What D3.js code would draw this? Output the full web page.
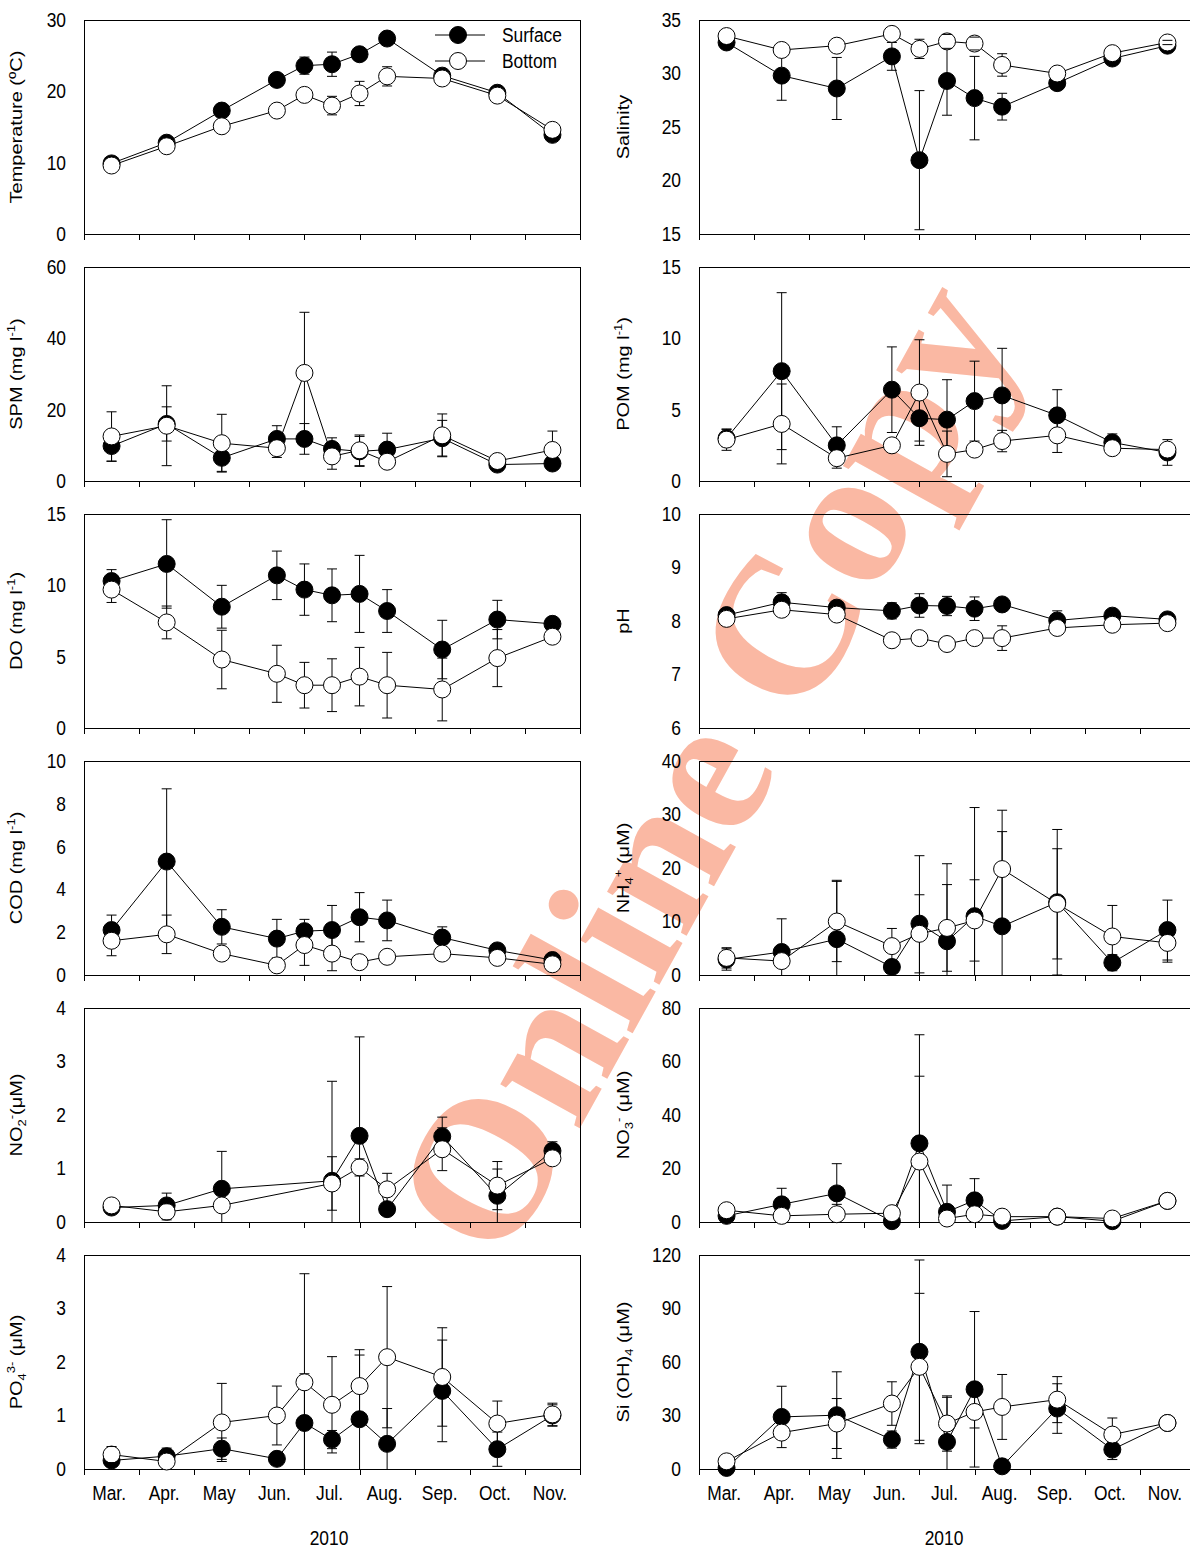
<!DOCTYPE html>
<html>
<head>
<meta charset="utf-8">
<script src="https://cdn.jsdelivr.net/npm/d3@7"></script>
<style>
  body { margin: 0; background: #fff; }
  svg { display: block; font-family: "Liberation Sans", Arial, sans-serif; }
</style>
</head>
<body>
<script>
// sampling dates, in months after 1 March 2010
var sampleMonths = [0.5, 1.5, 2.5, 3.5, 4, 4.5, 5, 5.5, 6.5, 7.5, 8.5];
var monthLabels = ["Mar.", "Apr.", "May", "Jun.", "Jul.", "Aug.", "Sep.", "Oct.", "Nov."];
var yearLabel = "2010";
var legendLabels = ["Surface", "Bottom"];

// Temperature
var tempSurf   = [9.9, 12.8, 17.3, 21.6, 23.6, 23.8, 25.2, 27.4, 22.2, 19.8, 13.9];
var tempSurfSD = [0.3, 0.3, 0.4, 0.4, 1.2, 1.7, 0.6, 0.4, 0.3, 0.3, 0.3];
var tempBot    = [9.6, 12.3, 15.1, 17.3, 19.5, 18.0, 19.7, 22.1, 21.8, 19.4, 14.6];
var tempBotSD  = [0, 0, 0, 0, 0, 1.3, 1.7, 1.35, 0, 0, 0];

// Salinity
var salSurf   = [32.9, 29.8, 28.6, 31.6, 21.9, 29.3, 27.7, 26.9, 29.1, 31.4, 32.6];
var salSurfSD = [0.4, 2.3, 2.9, 1.3, 6.5, 3.2, 3.9, 1.25, 0.3, 0.3, 0.2];
var salBot    = [33.5, 32.2, 32.6, 33.7, 32.3, 33.0, 32.8, 30.8, 30.0, 31.9, 32.9];
var salBotSD  = [0, 0, 0, 0, 0.9, 0.65, 0.6, 1.05, 0, 0, 0.2];

// SPM
var spmSurf   = [9.8, 16.0, 6.5, 11.8, 11.8, 9.0, 8.3, 8.8, 12.0, 4.6, 4.9];
var spmSurfSD = [4.3, 4.8, 3.8, 3.7, 4.3, 3.1, 4.2, 4.6, 5.0, 1.0, 1.5];
var spmBot    = [12.5, 15.5, 10.6, 9.2, 30.3, 6.9, 8.6, 5.4, 12.8, 5.6, 8.7];
var spmBotSD  = [6.9, 11.2, 8.1, 2.6, 17.0, 3.6, 4.3, 0, 6.0, 0, 5.3];

// POM
var pomSurf   = [3.0, 7.7, 2.5, 6.4, 4.4, 4.3, 5.6, 6.0, 4.6, 2.7, 2.0];
var pomSurfSD = [0.6, 5.5, 1.3, 3.0, 1.6, 2.8, 2.8, 3.3, 1.8, 0.6, 0.9];
var pomBot    = [2.9, 4.0, 1.6, 2.5, 6.2, 1.9, 2.2, 2.8, 3.2, 2.3, 2.2];
var pomBotSD  = [0.75, 2.8, 0.7, 0, 3.7, 1.6, 0, 0.75, 1.2, 0, 0];

// DO
var doSurf   = [10.3, 11.5, 8.5, 10.7, 9.7, 9.3, 9.4, 8.2, 5.5, 7.6, 7.3];
var doSurfSD = [0.8, 3.1, 1.5, 1.7, 1.8, 1.85, 2.7, 1.5, 2.05, 1.35, 0.3];
var doBot    = [9.7, 7.4, 4.8, 3.8, 3.0, 3.0, 3.6, 3.0, 2.7, 4.9, 6.4];
var doBotSD  = [0.9, 1.15, 2.05, 2.0, 1.6, 1.85, 2.05, 2.3, 2.2, 2.0, 0];

// pH
var phSurf   = [8.11, 8.35, 8.25, 8.19, 8.29, 8.28, 8.23, 8.31, 8.01, 8.10, 8.03];
var phSurfSD = [0.08, 0.18, 0.05, 0.15, 0.22, 0.18, 0.22, 0.05, 0.18, 0.05, 0.04];
var phBot    = [8.04, 8.21, 8.12, 7.64, 7.68, 7.57, 7.68, 7.68, 7.87, 7.93, 7.96];
var phBotSD  = [0, 0, 0, 0, 0, 0, 0, 0.23, 0, 0, 0];

// COD
var codSurf   = [2.1, 5.3, 2.25, 1.7, 2.05, 2.1, 2.7, 2.55, 1.75, 1.15, 0.7];
var codSurfSD = [0.7, 3.4, 0.8, 0.9, 0.55, 1.15, 1.15, 0.95, 0.5, 0.3, 0.1];
var codBot    = [1.6, 1.9, 1.0, 0.45, 1.4, 1.0, 0.6, 0.85, 1.0, 0.8, 0.5];
var codBotSD  = [0.7, 0.9, 0, 0, 0.95, 0.8, 0, 0, 0, 0, 0];

// NH4+
var nh4Surf   = [2.9, 4.3, 6.7, 1.5, 9.6, 6.3, 11.0, 9.1, 13.6, 2.3, 8.4];
var nh4SurfSD = [2.0, 6.2, 11.0, 1.0, 12.7, 14.5, 20.3, 17.7, 13.6, 1.5, 5.6];
var nh4Bot    = [3.2, 2.6, 10.0, 5.4, 7.7, 8.8, 10.2, 19.8, 13.3, 7.2, 6.0];
var nh4BotSD  = [1.9, 0, 7.5, 3.3, 7.3, 8.1, 7.6, 11.0, 10.3, 5.8, 3.6];

// NO2- (no samples at mid June / early July)
var no2Surf   = [0.27, 0.31, 0.62, null, null, 0.77, 1.61, 0.24, 1.60, 0.49, 1.33];
var no2SurfSD = [0.03, 0.23, 0.7, null, null, 1.86, 1.85, 0.05, 0.36, 0.5, 0.17];
var no2Bot    = [0.31, 0.19, 0.31, null, null, 0.72, 1.02, 0.61, 1.36, 0.68, 1.19];
var no2BotSD  = [0, 0.15, 0, null, null, 0.5, 0.16, 0.3, 0.4, 0.45, 0];

// NO3-
var no3Surf   = [2.3, 6.6, 10.7, 0.3, 29.4, 3.8, 8.1, 0.4, 2.0, 0.3, 7.9];
var no3SurfSD = [0.5, 6.0, 11.1, 0.3, 40.6, 10.0, 8.1, 0.3, 0.5, 0.3, 0.5];
var no3Bot    = [4.4, 2.3, 2.9, 3.3, 22.6, 1.3, 2.9, 2.0, 2.0, 1.3, 7.9];
var no3BotSD  = [0, 0, 3.7, 0, 31.9, 0, 0, 0, 0, 0, 0];

// PO4 3-
var po4Surf   = [0.16, 0.24, 0.38, 0.19, 0.86, 0.55, 0.93, 0.47, 1.46, 0.37, 1.0];
var po4SurfSD = [0.05, 0.15, 0.2, 0.05, 0.92, 0.17, 1.2, 0.66, 0.95, 0.32, 0.2];
var po4Bot    = [0.27, 0.14, 0.87, 1.0, 1.62, 1.2, 1.55, 2.09, 1.72, 0.85, 1.02];
var po4BotSD  = [0.15, 0, 0.73, 0.55, 2.03, 0.9, 0.68, 1.32, 0.92, 0.42, 0.21];

// Si(OH)4
var siSurf   = [0.6, 29.2, 30.2, 16.5, 65.7, 15.2, 44.7, 1.5, 33.9, 10.9, 25.8];
var siSurfSD = [0.5, 17.2, 24.3, 4.8, 51.5, 25.0, 43.6, 0.5, 13.9, 5.6, 1.0];
var siBot    = [4.3, 20.4, 25.5, 36.7, 57.3, 25.5, 32.0, 34.8, 38.9, 19.3, 25.8];
var siBotSD  = [0, 0, 14.0, 12.2, 41.2, 15.5, 9.0, 18.2, 12.9, 9.3, 0];

// axis titles, as [text, "sub"/"sup"/""] pieces
var panels = [
  { col: 0, row: 0, domain: [0, 30], step: 10, title: [["Temperature (\u00baC)", ""]],
    surf: tempSurf, surfSD: tempSurfSD, bot: tempBot, botSD: tempBotSD },
  { col: 1, row: 0, domain: [15, 35], step: 5, title: [["Salinity", ""]],
    surf: salSurf, surfSD: salSurfSD, bot: salBot, botSD: salBotSD },
  { col: 0, row: 1, domain: [0, 60], step: 20, title: [["SPM (mg l", ""], ["-1", "sup"], [")", ""]],
    surf: spmSurf, surfSD: spmSurfSD, bot: spmBot, botSD: spmBotSD },
  { col: 1, row: 1, domain: [0, 15], step: 5, title: [["POM (mg l", ""], ["-1", "sup"], [")", ""]],
    surf: pomSurf, surfSD: pomSurfSD, bot: pomBot, botSD: pomBotSD },
  { col: 0, row: 2, domain: [0, 15], step: 5, title: [["DO (mg l", ""], ["-1", "sup"], [")", ""]],
    surf: doSurf, surfSD: doSurfSD, bot: doBot, botSD: doBotSD },
  { col: 1, row: 2, domain: [6, 10], step: 1, title: [["pH", ""]],
    surf: phSurf, surfSD: phSurfSD, bot: phBot, botSD: phBotSD },
  { col: 0, row: 3, domain: [0, 10], step: 2, title: [["COD (mg l", ""], ["-1", "sup"], [")", ""]],
    surf: codSurf, surfSD: codSurfSD, bot: codBot, botSD: codBotSD },
  { col: 1, row: 3, domain: [0, 40], step: 10, title: [["NH", ""], ["4", "sub"], ["+", "sup"], [" (\u03bcM)", ""]],
    surf: nh4Surf, surfSD: nh4SurfSD, bot: nh4Bot, botSD: nh4BotSD },
  { col: 0, row: 4, domain: [0, 4], step: 1, title: [["NO", ""], ["2", "sub"], ["-", "sup"], ["(\u03bcM)", ""]],
    surf: no2Surf, surfSD: no2SurfSD, bot: no2Bot, botSD: no2BotSD },
  { col: 1, row: 4, domain: [0, 80], step: 20, title: [["NO", ""], ["3", "sub"], ["-", "sup"], [" (\u03bcM)", ""]],
    surf: no3Surf, surfSD: no3SurfSD, bot: no3Bot, botSD: no3BotSD },
  { col: 0, row: 5, domain: [0, 4], step: 1, title: [["PO", ""], ["4", "sub"], ["3-", "sup"], [" (\u03bcM)", ""]],
    surf: po4Surf, surfSD: po4SurfSD, bot: po4Bot, botSD: po4BotSD },
  { col: 1, row: 5, domain: [0, 120], step: 30, title: [["Si (OH)", ""], ["4", "sub"], [" (\u03bcM)", ""]],
    surf: siSurf, surfSD: siSurfSD, bot: siBot, botSD: siBotSD }
];

// layout
var svgWidth = 1190;
var svgHeight = 1549;
var plotW = 496;
var plotH = 214;
var colX = [84, 699];
var rowY = [20, 267, 514, 761, 1008, 1255];
var titleDx = [-62, -70];
var squeeze = 0.87;   // the figure is a bit narrow
var r = 8.5;
var capW = 5;

var svg = d3.select("body")
  .append("svg")
  .attr("width", svgWidth)
  .attr("height", svgHeight);

// watermark behind everything
svg.append("text")
  .attr("transform", "translate(702,765) rotate(-61)")
  .attr("text-anchor", "middle")
  .attr("dy", "0.35em")
  .style("font-family", "'Liberation Serif', 'Times New Roman', serif")
  .style("font-size", "198px")
  .style("font-weight", "bold")
  .attr("fill", "#fab8a3")
  .text("Online Copy");

function hText(g, x, y, str, anchor) {
  return g.append("text")
    .attr("transform", "translate(" + x + "," + y + ") scale(" + squeeze + ",1)")
    .attr("text-anchor", anchor || "start")
    .attr("font-size", 20)
    .text(str);
}

function drawSeries(g, x, y, domain, vals, sds, filled) {
  var pts = sampleMonths.map(function(m, i) {
    return { m: m, v: vals[i], sd: sds[i] };
  }).filter(function(d) { return d.v != null; });

  g.append("path")
    .datum(pts)
    .attr("d", d3.line().x(function(d) { return x(d.m); }).y(function(d) { return y(d.v); }))
    .attr("fill", "none")
    .attr("stroke", "#000")
    .attr("stroke-width", 1);

  g.selectAll(null)
    .data(pts)
    .enter()
    .append("circle")
    .attr("cx", function(d) { return x(d.m); })
    .attr("cy", function(d) { return y(d.v); })
    .attr("r", r)
    .attr("fill", filled ? "#000" : "#fff")
    .attr("stroke", "#000")
    .attr("stroke-width", 1);

  // error bars start at the symbol edge
  g.selectAll(null)
    .data(pts.filter(function(d) { return d.sd > 0; }))
    .enter()
    .append("path")
    .attr("fill", "none")
    .attr("stroke", "#000")
    .attr("stroke-width", 1)
    .attr("d", function(d) {
      var cx = x(d.m), cy = y(d.v), s = "";
      if (d.v + d.sd <= domain[1]) {
        var yh = y(d.v + d.sd);
        if (cy - yh > r) s += "M" + cx + "," + (cy - r) + "V" + yh;
        s += "M" + (cx - capW) + "," + yh + "H" + (cx + capW);
      }
      var lo = d.v - d.sd;
      var yl = y(Math.max(lo, domain[0]));
      if (yl - cy > r) s += "M" + cx + "," + (cy + r) + "V" + yl;
      if (lo >= domain[0]) s += "M" + (cx - capW) + "," + yl + "H" + (cx + capW);
      return s;
    });
}

panels.forEach(function(p) {
  var g = svg.append("g")
    .attr("transform", "translate(" + colX[p.col] + "," + rowY[p.row] + ")");

  var x = d3.scaleLinear().domain([0, 9]).range([0, plotW]);
  var y = d3.scaleLinear().domain(p.domain).range([plotH, 0]);

  // frame
  g.append("rect")
    .attr("width", plotW)
    .attr("height", plotH)
    .attr("fill", "none")
    .attr("stroke", "#000")
    .attr("shape-rendering", "crispEdges");

  // y axis, labels only
  var yTicks = d3.range(p.domain[0], p.domain[1] + 1e-9, p.step);
  var ya = g.append("g")
    .call(d3.axisLeft(y).tickValues(yTicks).tickSize(0).tickSizeOuter(0).tickFormat(d3.format("~g")));
  ya.attr("font-family", null).attr("font-size", 20);
  ya.select(".domain").attr("shape-rendering", "crispEdges");
  ya.selectAll("text")
    .attr("x", -18 / squeeze)
    .attr("transform", "scale(" + squeeze + ",1)");

  // x axis, ticks at month boundaries
  var xa = g.append("g")
    .attr("transform", "translate(0," + plotH + ")")
    .call(d3.axisBottom(x).tickValues(d3.range(0, 10)).tickSize(6).tickSizeOuter(0).tickFormat(""));
  xa.selectAll("line, path").attr("shape-rendering", "crispEdges");

  if (p.row === 5) {
    var xl = g.append("g")
      .attr("transform", "translate(0," + plotH + ")")
      .call(d3.axisBottom(x).tickValues(d3.range(0.5, 9, 1)).tickSize(0)
        .tickFormat(function(d, i) { return monthLabels[i]; }));
    xl.attr("font-family", null).attr("font-size", 20);
    xl.select(".domain").remove();
    xl.selectAll("text")
      .attr("x", -3 / squeeze)
      .attr("y", 31)
      .attr("dy", 0)
      .attr("transform", "scale(" + squeeze + ",1)");
    hText(g, plotW / 2 - 3, plotH + 76, yearLabel, "middle");
  }

  // rotated axis title
  var t = g.append("text")
    .attr("transform", "translate(" + titleDx[p.col] + "," + (plotH / 2) + ") rotate(-90) scale(1," + squeeze + ")")
    .attr("text-anchor", "middle")
    .attr("font-size", 20);
  var shift = 0;
  p.title.forEach(function(seg) {
    var target = seg[1] === "sup" ? -8 : seg[1] === "sub" ? 5 : 0;
    t.append("tspan")
      .attr("dy", target - shift)
      .attr("font-size", seg[1] ? 13 : 20)
      .text(seg[0]);
    shift = target;
  });

  drawSeries(g, x, y, p.domain, p.surf, p.surfSD, true);
  drawSeries(g, x, y, p.domain, p.bot, p.botSD, false);

  // legend in the first panel
  if (p.col === 0 && p.row === 0) {
    legendLabels.forEach(function(lab, i) {
      var ly = 15 + i * 26;
      g.append("line")
        .attr("x1", 351).attr("x2", 401)
        .attr("y1", ly).attr("y2", ly)
        .attr("stroke", "#000");
      g.append("circle")
        .attr("cx", 374).attr("cy", ly).attr("r", r)
        .attr("fill", i === 0 ? "#000" : "#fff")
        .attr("stroke", "#000");
      hText(g, 418, ly + 7, lab, "start");
    });
  }
});
</script>
</body>
</html>
